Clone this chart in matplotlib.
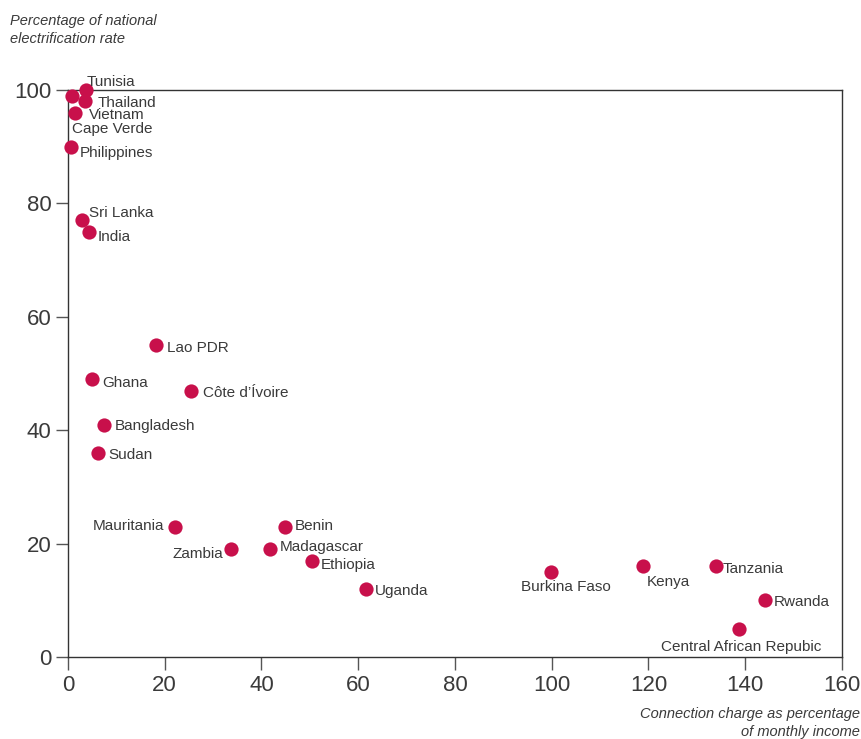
import matplotlib
matplotlib.use("Agg")
import matplotlib.pyplot as plt

plt.rcParams['font.family'] = ['Liberation Sans', 'DejaVu Sans']

countries = ["Tunisia", "Thailand", "Vietnam", "Cape Verde", "Philippines",
             "Sri Lanka", "India", "Lao PDR", "Ghana", "Côte d’Ívoire",
             "Bangladesh", "Sudan", "Mauritania", "Zambia", "Madagascar",
             "Benin", "Ethiopia", "Uganda", "Burkina Faso", "Kenya",
             "Tanzania", "Rwanda", "Central African Repubic"]
connection_charge = [3.7, 3.5, 1.4, 0.8, 0.6,
                     2.9, 4.3, 18.2, 5.0, 25.4,
                     7.4, 6.2, 22.1, 33.7, 41.8,
                     44.9, 50.4, 61.6, 99.8, 118.9,
                     134.0, 144.0, 138.7]
electrification = [100, 98, 96, 99, 90,
                   77, 75, 55, 49, 47,
                   41, 36, 23, 19, 19,
                   23, 17, 12, 15, 16,
                   16, 10, 5]

# label offsets in pixels (dx, dy) and horizontal alignment
label_pos = {
    "Tunisia": (1, 9, "left"),
    "Thailand": (13, 0, "left"),
    "Vietnam": (14, -1, "left"),
    "Cape Verde": (0, -32, "left"),
    "Philippines": (9, -5, "left"),
    "Sri Lanka": (7, 9, "left"),
    "India": (9, -4, "left"),
    "Lao PDR": (11, -1, "left"),
    "Ghana": (10, -2, "left"),
    "Côte d’Ívoire": (12, -1, "left"),
    "Bangladesh": (11, 0, "left"),
    "Sudan": (10, -1, "left"),
    "Mauritania": (-11, 2, "right"),
    "Zambia": (-8, -3, "right"),
    "Madagascar": (10, 4, "left"),
    "Benin": (10, 2, "left"),
    "Ethiopia": (9, -3, "left"),
    "Uganda": (9, -1, "left"),
    "Burkina Faso": (15, -14, "center"),
    "Kenya": (4, -14, "left"),
    "Tanzania": (6, -1, "left"),
    "Rwanda": (9, 0, "left"),
    "Central African Repubic": (2, -17, "center"),
}

text_color = "#3a3a3a"
dot_color = "#C8104B"

fig = plt.figure(figsize=(8.62, 7.39), dpi=100)
ax = fig.add_axes([68/862, (739-657)/739, (842-68)/862, (657-90)/739])

ax.scatter(connection_charge, electrification, s=105, color=dot_color,
           zorder=3, linewidths=0, clip_on=False)

px = 72/100  # points per pixel
for name, x, y in zip(countries, connection_charge, electrification):
    dx, dy, ha = label_pos[name]
    ax.annotate(name, (x, y), xytext=(dx*px, (dy - 1.5)*px),
                textcoords="offset points",
                ha=ha, va="center", fontsize=11, color=text_color)

ax.set_xlim(0, 160)
ax.set_ylim(0, 100)
ax.set_xticks(range(0, 161, 20))
ax.set_yticks(range(0, 101, 20))
ax.tick_params(axis="both", direction="out", length=9, width=1,
               color="#555555", labelcolor=text_color, labelsize=16)
ax.tick_params(axis="x", pad=4)
ax.tick_params(axis="y", pad=3)
for s in ax.spines.values():
    s.set_color("#333333")
    s.set_linewidth(1)

fig.text(10/862, 1-30/739, "Percentage of national\nelectrification rate",
         ha="left", va="center", fontsize=10.5, style="italic",
         color=text_color, linespacing=1.45)
fig.text(860/862, 1-723/739, "Connection charge as percentage\nof monthly income",
         ha="right", va="center", fontsize=10.5, style="italic",
         color=text_color, linespacing=1.45)

fig.savefig("out.png", dpi=100)
